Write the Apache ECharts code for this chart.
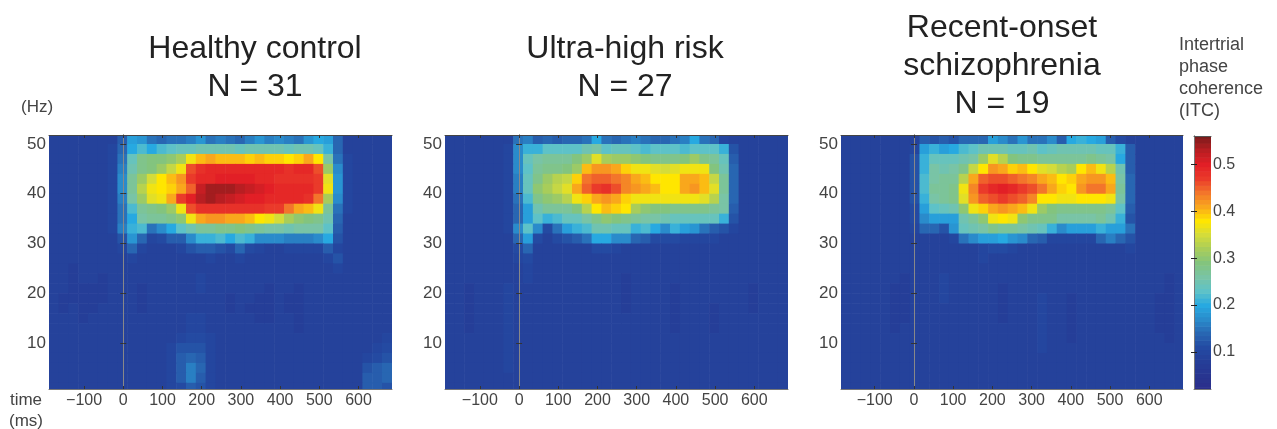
<!DOCTYPE html>
<html><head><meta charset="utf-8">
<script src="https://cdn.jsdelivr.net/npm/echarts@6/dist/echarts.min.js"></script>
<style>html,body{margin:0;padding:0;background:#fff}#c{width:1277px;height:429px;filter:blur(0.7px)}</style>
</head><body><div id="c"></div>
<script>
// ITC x 100, one row per frequency bin (top = 51 Hz), one column per 25 ms bin
const rowHz = [51,49,47,45,43,41,39,37,35,33,31,29,27,25,23,21,19,17,15,13,11,9,7,5,3,1];
const healthyITC = [
[9,9,9,9,9,9,9, 13,19,18,15,14,15,15,16,18,15,16,15,14,16,18,16,17,16,15,18,20,19,14, 9,9,9,9,9],
[9,9,9,9,9,9,10, 14,20,22,20,22,23,24,24,25,25,25,25,24,25,25,25,25,24,25,25,24,21,14, 9,9,9,9,9],
[9,9,9,9,9,9,10, 15,24,28,29,29,30,32,37,40,41,40,40,40,39,40,39,39,38,39,41,38,26,15, 10,9,9,9,9],
[9,9,9,9,9,9,10, 16,25,28,29,31,34,37,46,48,49,49,49,49,49,49,49,49,48,49,49,46,31,17, 10,9,9,9,9],
[9,9,9,9,9,9,10, 17,27,31,35,38,40,42,47,49,49,50,50,50,50,49,49,48,48,48,48,47,36,18, 10,9,9,9,9],
[9,9,9,9,9,9,10, 17,27,33,37,38,39,41,45,52,54,54,54,53,52,51,50,49,49,49,49,47,37,18, 10,9,9,9,9],
[9,9,9,9,9,9,10, 16,26,31,36,37,41,47,50,53,54,53,52,51,50,50,49,49,49,49,48,44,32,17, 10,9,9,9,9],
[9,9,9,9,9,9,10, 15,22,27,28,29,31,37,46,48,48,48,48,48,48,48,47,47,44,41,40,37,27,15, 10,9,9,9,9],
[9,9,9,9,9,9,10, 15,20,26,27,27,28,30,37,41,42,42,41,41,40,38,37,35,32,30,29,28,25,14, 9,9,9,9,9],
[9,9,9,9,9,9,10, 16,21,22,15,17,20,23,25,27,27,28,28,29,28,27,26,26,25,26,26,26,23,13, 9,9,9,9,9],
[9,9,9,9,9,9,9, 12,18,14,10,11,13,13,17,21,21,22,20,22,21,17,17,17,16,16,16,17,20,12, 9,9,9,9,9],
[9,9,9,9,9,9,9, 10,14,10,9,9,9,10,12,13,13,12,11,14,11,10,9,9,10,10,10,10,13,10, 9,9,9,9,9],
[9,9,9,9,9,9,9, 9,10,9,9,9,9,9,9,9,10,9,9,10,9,9,9,9,9,9,9,9,10,12, 9,9,9,9,9],
[9,9,8,9,9,9,9, 9,9,9,9,9,9,9,9,9,9,9,9,9,9,9,9,9,9,9,9,9,9,10, 9,9,9,9,9],
[9,9,8,9,9,8,9, 9,9,9,9,9,9,9,9,10,9,9,9,9,9,9,9,9,9,9,9,9,9,9, 9,9,9,9,9],
[9,9,8,8,8,8,9, 9,9,8,9,9,9,9,9,10,9,9,9,9,9,9,8,9,9,8,9,9,9,9, 9,9,9,9,9],
[9,8,8,8,8,8,9, 9,9,8,9,9,9,9,9,9,9,9,8,9,9,8,8,9,8,8,9,9,9,9, 9,9,9,9,9],
[9,8,9,8,8,9,9, 9,9,8,9,9,9,9,9,9,9,9,8,9,8,8,8,9,8,8,9,9,9,9, 9,9,9,9,9],
[9,9,9,8,9,9,9, 9,9,9,9,9,9,9,10,10,9,9,9,9,9,8,8,9,9,8,9,9,9,9, 9,9,9,9,9],
[9,9,9,9,9,9,9, 9,9,9,9,9,9,9,10,10,9,9,9,9,9,9,9,9,9,8,9,9,9,9, 9,9,9,9,9],
[9,9,9,9,9,9,9, 9,9,9,9,9,9,10,11,11,10,9,9,9,9,9,9,9,9,9,9,9,9,9, 9,9,9,9,10],
[9,9,9,9,9,9,9, 9,9,9,9,9,10,12,12,12,10,9,9,9,9,9,9,9,9,9,9,9,9,9, 9,9,9,10,11],
[9,9,9,9,9,9,9, 9,9,9,9,9,10,13,14,13,10,9,9,9,9,9,9,9,9,9,9,9,9,9, 9,9,10,11,12],
[9,9,9,9,9,9,9, 9,9,9,9,9,10,13,16,14,10,9,9,9,9,9,9,9,9,9,9,9,9,9, 9,9,12,13,14],
[9,9,9,9,9,9,9, 9,9,9,9,9,10,13,16,13,10,9,9,9,9,9,9,9,9,9,9,9,9,9, 9,9,13,13,14],
[9,9,9,9,9,9,9, 9,9,9,9,9,10,11,13,12,10,9,9,9,9,9,9,9,9,9,9,9,9,9, 9,9,13,13,12]
];
const ultraHighRiskITC = [
[9,9,9,9,9,9,9, 15,16,13,14,13,14,14,15,20,15,14,15,16,15,14,14,15,16,20,15,14,10,9, 9,9,9,9,9],
[9,9,9,9,9,9,10, 17,21,21,23,23,23,23,25,26,23,24,24,23,22,23,23,23,22,23,23,23,21,12, 9,9,9,9,9],
[9,9,9,9,9,9,10, 17,24,26,27,27,27,29,31,36,32,31,31,30,29,28,28,28,29,31,28,27,24,13, 9,9,9,9,9],
[9,9,9,9,9,9,10, 17,23,27,28,28,29,31,40,42,42,41,39,37,37,36,35,36,37,37,37,29,25,14, 9,9,9,9,9],
[9,9,9,9,9,9,10, 16,24,28,31,33,34,39,44,45,45,44,43,41,40,38,38,38,41,41,40,34,27,14, 9,9,9,9,9],
[9,9,9,9,9,9,10, 16,24,30,32,34,36,41,45,47,48,46,43,42,41,40,38,38,41,42,40,36,27,14, 9,9,9,9,9],
[9,9,9,9,9,9,10, 15,22,28,30,31,33,37,39,41,42,41,39,37,37,37,37,37,37,37,36,33,26,14, 9,9,9,9,9],
[9,9,9,9,9,9,10, 14,19,25,27,27,27,29,33,38,40,39,38,32,30,29,29,28,28,28,28,27,26,13, 9,9,9,9,9],
[9,9,9,9,9,9,10, 14,19,23,21,22,24,24,26,28,30,29,28,27,26,26,25,24,24,24,24,24,21,12, 9,9,9,9,9],
[9,9,9,9,9,9,10, 17,23,17,11,15,19,21,22,25,25,24,24,21,22,20,17,21,19,18,15,13,12,10, 9,9,9,9,9],
[9,9,9,9,9,9,9, 14,19,11,9,11,12,13,15,20,20,17,17,14,13,11,11,11,10,10,10,10,9,9, 9,9,9,9,9],
[9,9,9,9,9,9,9, 11,14,9,9,9,9,9,9,11,11,10,9,9,9,9,9,9,9,9,9,9,9,9, 9,9,9,9,9],
[9,9,9,9,9,9,9, 10,11,9,9,9,9,9,9,9,9,9,9,9,9,9,9,9,9,9,9,9,9,9, 9,9,9,9,9],
[9,9,9,9,9,9,9, 9,10,9,9,9,9,9,9,9,9,9,9,9,9,9,9,9,9,9,9,9,9,9, 9,9,9,9,9],
[9,9,9,9,9,9,9, 9,10,9,9,9,9,9,9,9,9,9,8,9,9,9,9,9,9,9,9,9,9,9, 9,9,9,9,9],
[9,9,8,9,9,9,10, 9,9,9,9,9,9,9,9,9,9,9,8,9,9,9,9,8,9,9,9,9,9,9, 9,8,9,9,9],
[9,9,8,9,9,9,10, 9,9,9,9,9,9,9,9,9,9,9,8,9,9,9,9,8,9,9,9,9,9,9, 9,8,9,9,9],
[9,9,8,9,9,9,10, 9,9,9,9,9,9,9,9,9,9,9,8,9,9,9,9,8,9,9,9,8,9,9, 9,8,9,9,9],
[9,9,8,9,9,9,10, 9,9,9,9,9,9,9,9,9,9,9,9,9,9,9,9,8,9,9,9,8,9,9, 9,9,9,9,9],
[9,9,8,9,9,9,10, 9,9,9,9,9,9,9,9,9,9,9,9,9,9,9,9,8,9,9,9,8,9,9, 9,9,9,9,9],
[9,9,9,9,9,9,10, 9,9,9,9,9,9,9,9,9,9,9,9,9,9,9,9,9,9,9,9,9,9,9, 9,9,9,9,9],
[9,9,9,9,9,9,10, 9,9,9,9,9,9,9,9,9,9,9,9,9,9,9,9,9,9,9,9,9,9,9, 9,9,9,9,9],
[9,9,9,9,9,9,10, 9,9,9,9,9,9,9,9,9,9,9,9,9,9,9,9,9,9,9,9,9,9,9, 9,9,9,9,9],
[9,9,9,9,9,9,10, 9,9,9,9,9,9,9,9,9,9,9,9,9,9,9,9,9,9,9,9,9,9,9, 9,9,9,9,9],
[9,9,9,9,9,9,9, 9,9,9,9,9,9,9,9,9,9,9,9,9,9,9,9,9,9,9,9,9,9,9, 9,9,9,9,9],
[9,9,9,9,9,9,9, 9,9,9,9,9,9,9,9,9,9,9,9,9,9,9,9,9,9,9,9,9,9,9, 9,9,9,9,9]
];
const recentOnsetITC = [
[9,9,9,9,9,9,9, 9,13,12,13,12,14,14,14,19,17,15,18,15,15,17,13,20,21,20,19,13,11,9, 9,9,9,9,9],
[9,9,9,9,9,9,9, 10,19,21,19,20,22,23,25,25,25,24,24,25,23,24,25,25,25,25,24,24,21,13, 9,9,9,9,9],
[9,9,9,9,9,9,9, 12,21,24,24,24,25,26,31,36,33,29,28,28,27,27,27,27,27,28,27,26,20,13, 9,9,9,9,9],
[9,9,9,9,9,9,9, 12,21,26,25,26,28,34,38,42,41,39,40,38,36,35,33,32,38,40,37,33,25,13, 9,9,9,9,9],
[9,9,9,9,9,9,9, 12,22,26,27,27,33,41,45,46,46,45,44,43,41,40,38,39,41,42,42,40,26,14, 9,9,9,9,9],
[9,9,9,9,9,9,9, 12,22,27,27,28,37,43,47,49,50,49,47,46,44,41,39,38,42,44,44,41,27,14, 9,9,9,9,9],
[9,9,9,9,9,9,9, 12,21,26,27,28,36,42,45,46,47,46,45,43,38,38,37,37,38,38,38,37,26,14, 9,9,9,9,9],
[9,9,9,9,9,9,9, 11,19,23,24,25,30,37,39,41,42,41,40,37,31,29,28,28,28,28,28,27,23,13, 9,9,9,9,9],
[9,9,9,9,9,9,9, 11,17,19,19,19,25,27,30,37,38,37,30,28,28,28,26,26,26,26,27,25,21,12, 9,9,9,9,9],
[9,9,9,9,9,9,9, 10,14,14,12,18,24,25,26,28,27,27,26,25,24,21,17,19,19,19,21,19,19,15, 9,9,9,9,9],
[9,9,9,9,9,9,9, 9,9,9,9,10,15,17,19,19,20,18,17,14,13,10,10,10,10,10,14,16,14,12, 9,9,9,9,9],
[9,9,9,9,9,9,9, 9,9,9,9,9,9,9,10,11,11,10,9,9,9,9,9,9,9,9,9,9,9,10, 9,9,9,9,9],
[9,9,9,9,9,9,9, 9,9,9,9,9,9,9,10,9,9,9,9,9,9,9,9,9,9,9,9,9,9,9, 9,9,9,9,9],
[9,9,9,9,9,9,9, 9,9,9,9,9,9,9,9,9,9,9,9,9,9,9,9,9,9,9,9,9,9,9, 9,9,9,9,9],
[9,9,9,9,9,9,8, 9,9,9,10,9,9,9,9,9,9,9,9,9,9,9,9,9,9,9,9,9,9,9, 9,9,9,8,9],
[9,9,9,9,9,8,8, 9,9,9,10,9,9,9,9,9,8,9,9,9,9,9,9,9,9,9,9,9,9,9, 9,9,9,8,9],
[9,9,9,9,9,8,8, 9,9,9,10,9,9,9,9,9,8,9,9,9,10,9,9,8,9,9,9,9,9,9, 9,9,8,8,9],
[9,9,9,9,9,8,8, 9,9,9,9,9,9,9,9,9,8,9,9,9,10,9,9,8,9,9,9,9,9,9, 9,9,8,8,9],
[9,9,9,9,9,8,8, 9,9,9,9,9,9,9,9,9,8,9,9,9,10,9,9,8,9,9,9,9,9,9, 9,9,8,8,9],
[9,9,9,9,9,8,9, 9,9,9,9,9,9,9,9,9,9,9,9,9,10,9,9,8,9,9,9,9,9,9, 9,9,8,8,9],
[9,9,9,9,9,9,9, 9,9,9,9,9,9,9,9,9,9,9,9,9,10,9,9,8,9,9,9,9,9,9, 9,9,9,8,9],
[9,9,9,9,9,9,9, 9,9,9,9,9,9,9,9,9,9,9,9,9,10,9,9,9,9,9,9,9,9,9, 9,9,9,9,9],
[9,9,9,9,9,9,9, 9,9,9,9,9,9,9,9,9,9,9,9,9,9,9,9,9,9,9,9,9,9,9, 9,9,9,9,9],
[9,9,9,9,9,9,9, 9,9,9,9,9,9,9,9,9,9,9,9,9,9,9,9,9,9,9,9,9,9,9, 9,9,9,9,9],
[9,9,9,9,9,9,9, 9,9,9,9,9,9,9,9,9,9,9,9,9,9,9,9,9,9,9,9,9,9,9, 9,9,9,9,9],
[9,9,9,9,9,9,9, 9,9,9,9,9,9,9,9,9,9,9,9,9,9,9,9,9,9,9,9,9,9,9, 9,9,9,9,9]
];
const timeTicks = [-100,0,100,200,300,400,500,600];
const hzTicks = [10,20,30,40,50];
const itcTicks = [0.1,0.2,0.3,0.4,0.5];
const colorbarLevels = [0.02,0.03,0.04,0.05,0.06,0.07,0.08,0.09,0.10,0.11,0.12,0.13,0.14,0.15,0.16,0.17,0.18,0.19,0.20,0.21,0.22,0.23,0.24,0.25,0.26,0.27,0.28,0.29,0.30,0.31,0.32,0.33,0.34,0.35,0.36,0.37,0.38,0.39,0.40,0.41,0.42,0.43,0.44,0.45,0.46,0.47,0.48,0.49,0.50,0.51,0.52,0.53,0.54,0.55,0.56];
const jetStops = ['#2b2e8b','#283590','#253e98','#244aa2','#2866b2','#2a8bcb','#27a9e1','#5ec2c8','#79c4a6','#83c47e','#a8cd5a','#d4dc3a','#ffe600','#f9a71c','#f3752b','#ea3a2a','#e21f26','#b81e22','#7a1a1a'];

const panelGrids = [
 {left:49,top:135,width:343,height:254,xMin:-189.5,xMax:685.5,firstBin:-190,matrix:healthyITC},
 {left:445,top:135,width:343,height:254,xMin:-189,xMax:686,firstBin:-190,matrix:ultraHighRiskITC},
 {left:841,top:135,width:342,height:254,xMin:-186,xMax:686,firstBin:-186,matrix:recentOnsetITC}
];
const INK='#444', FONT='"Liberation Sans",Arial,sans-serif';
function clipped(params,a,b){
  return echarts.graphic.clipRectByRect({x:a[0],y:a[1],width:b[0]-a[0]+0.6,height:b[1]-a[1]+0.6},params.coordSys);
}
function renderCell(params,api){
  const t=api.value(0),hz=api.value(1);
  const r=clipped(params,api.coord([t-12.5,hz+1]),api.coord([t+12.5,hz-1]));
  return r&&{type:'rect',shape:r,style:{fill:api.visual('color')}};
}
function renderLevel(params,api){
  const v=api.value(1);
  const r=clipped(params,api.coord([0,v+0.005]),api.coord([1,v-0.005]));
  return r&&{type:'rect',shape:r,style:{fill:api.visual('color')}};
}
const grids=[],xAxes=[],yAxes=[],series=[];
panelGrids.forEach((p,k)=>{
  grids.push({left:p.left,top:p.top,width:p.width,height:p.height,show:false});
  const xb={type:'value',gridIndex:k,min:p.xMin,max:p.xMax,z:5,splitLine:{show:false}};
  xAxes.push({...xb,position:'bottom',
    axisLine:{show:true,lineStyle:{color:'#777',width:1}},
    axisTick:{show:true,inside:true,length:3,lineStyle:{color:'#333'},customValues:timeTicks},
    axisLabel:{show:true,margin:4,fontSize:16,color:INK,fontFamily:FONT,customValues:timeTicks,formatter:v=>String(v).replace('-','\u2212')}});
  xAxes.push({...xb,position:'top',
    axisLine:{show:true,lineStyle:{color:'#444',width:1}},
    axisTick:{show:true,inside:true,length:3,lineStyle:{color:'#333'},customValues:timeTicks},
    axisLabel:{show:false}});
  const yb={type:'value',gridIndex:k,min:0.75,max:51.81,z:5,splitLine:{show:false}};
  yAxes.push({...yb,position:'left',
    axisLine:{show:true,lineStyle:{color:'#444',width:1}},
    axisTick:{show:true,inside:true,length:3,lineStyle:{color:'#333'},customValues:hzTicks},
    axisLabel:{show:true,margin:3,fontSize:17,color:INK,fontFamily:FONT,customValues:hzTicks}});
  yAxes.push({...yb,position:'right',
    axisLine:{show:true,lineStyle:{color:'#888',width:1}},
    axisTick:{show:true,inside:true,length:3,lineStyle:{color:'#333'},customValues:hzTicks},
    axisLabel:{show:false}});
  const data=[];
  p.matrix.forEach((row,r)=>row.forEach((v,c)=>data.push([p.firstBin+12.5+25*c,rowHz[r],v/100])));
  series.push({type:'custom',xAxisIndex:2*k,yAxisIndex:2*k,coordinateSystem:'cartesian2d',
    encode:{x:0,y:1},dimensions:['t','hz','itc'],renderItem:renderCell,data,silent:true,animation:false});
});
grids.push({left:1194,top:136,width:17,height:253,show:false});
xAxes.push({type:'value',gridIndex:3,min:0,max:1,z:5,position:'bottom',
  axisLine:{show:true,lineStyle:{color:'#777'}},axisTick:{show:false},axisLabel:{show:false},splitLine:{show:false}});
xAxes.push({type:'value',gridIndex:3,min:0,max:1,z:5,position:'top',
  axisLine:{show:true,lineStyle:{color:'#555'}},axisTick:{show:false},axisLabel:{show:false},splitLine:{show:false}});
const cb={type:'value',gridIndex:3,min:0.0213,max:0.56,z:5,splitLine:{show:false}};
yAxes.push({...cb,position:'left',axisLine:{show:true,lineStyle:{color:'#777'}},
  axisTick:{show:true,inside:true,length:3,lineStyle:{color:'#222'},customValues:itcTicks},axisLabel:{show:false}});
yAxes.push({...cb,position:'right',axisLine:{show:true,lineStyle:{color:'#777'}},
  axisTick:{show:true,inside:true,length:3,lineStyle:{color:'#222'},customValues:itcTicks},
  axisLabel:{show:true,margin:2,fontSize:16,color:INK,fontFamily:FONT,customValues:itcTicks,formatter:v=>v.toFixed(1)}});
series.push({type:'custom',xAxisIndex:6,yAxisIndex:6,coordinateSystem:'cartesian2d',encode:{x:0,y:1},
  dimensions:['x','lvl','itc'],renderItem:renderLevel,data:colorbarLevels.map(v=>[0.5,v,v]),silent:true,animation:false});

const titleStyle={fontSize:32,fontWeight:'normal',color:'#222',fontFamily:FONT,align:'center',lineHeight:38};
const labelStyle={fontSize:17,fontWeight:'normal',color:INK,fontFamily:FONT};
const chart=echarts.init(document.getElementById('c'),null,{renderer:'canvas'});
chart.setOption({
  animation:false,backgroundColor:'#fff',
  title:[
   {text:'Healthy control\nN = 31',left:255,top:30,textAlign:'center',padding:0,textStyle:titleStyle},
   {text:'Ultra-high risk\nN = 27',left:625,top:30,textAlign:'center',padding:0,textStyle:titleStyle},
   {text:'Recent-onset\nschizophrenia\nN = 19',left:1002,top:9,textAlign:'center',padding:0,textStyle:titleStyle},
   {text:'(Hz)',left:21,top:99,padding:0,textStyle:labelStyle},
   {text:'time\n(ms)',left:26,top:390,textAlign:'center',padding:0,textStyle:{...labelStyle,align:'center',lineHeight:21}},
   {text:'Intertrial\nphase\ncoherence\n(ITC)',left:1179,top:34,padding:0,textStyle:{...labelStyle,fontSize:18,lineHeight:22}}
  ],
  grid:grids,xAxis:xAxes,yAxis:yAxes,series,
  visualMap:{type:'continuous',show:false,min:0.02,max:0.56,dimension:2,seriesIndex:[0,1,2,3],inRange:{color:jetStops}}
});
</script></body></html>
